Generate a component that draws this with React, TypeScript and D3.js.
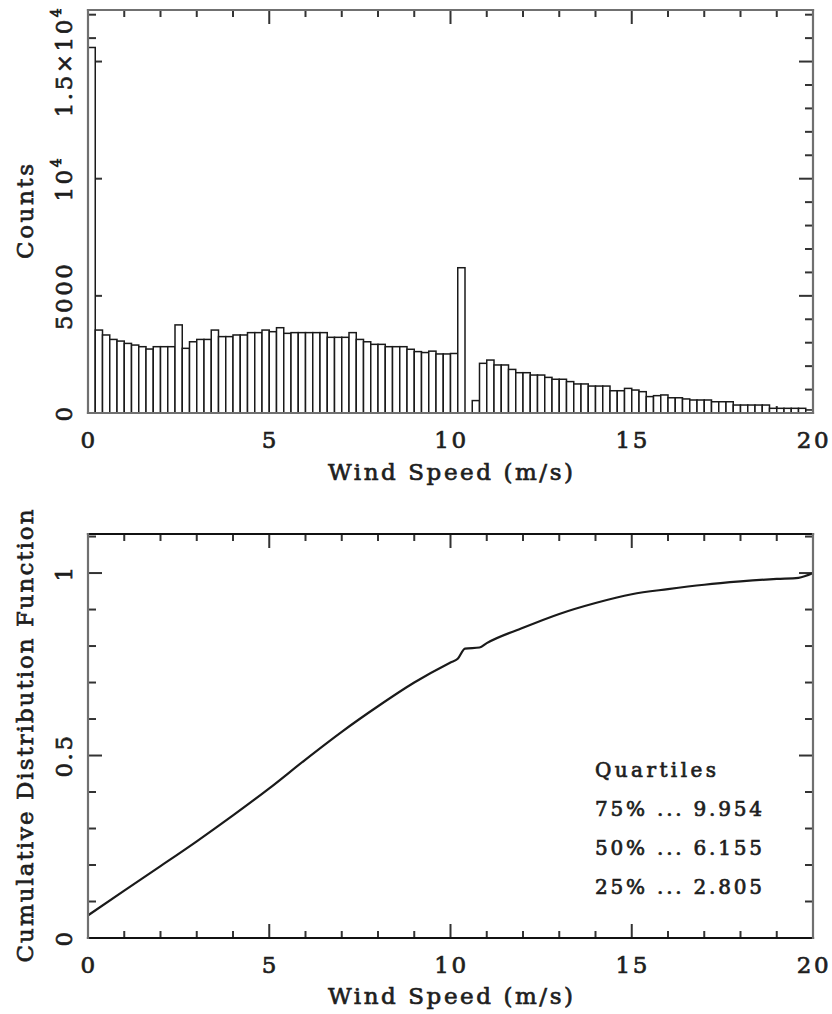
import React, { useEffect, useRef } from 'react';
import * as d3 from 'd3';

// histogram counts, 0.2 m/s bins from 0 to 20
const binWidth = 0.2;
const counts = [
  15600, 3540, 3330, 3140, 3070, 2970, 2900, 2830, 2730, 2830,
  2830, 2830, 3760, 2760, 3040, 3140, 3140, 3540, 3260, 3260,
  3330, 3330, 3430, 3430, 3540, 3470, 3640, 3400, 3430, 3430,
  3430, 3430, 3430, 3230, 3230, 3230, 3430, 3140, 3040, 2930,
  2930, 2830, 2830, 2830, 2720, 2620, 2580, 2640, 2520, 2520,
  2540, 6200, 0, 530, 2120, 2260, 2050, 2050, 1860, 1720,
  1720, 1620, 1620, 1520, 1440, 1440, 1340, 1240, 1240, 1150,
  1150, 1150, 950, 950, 1050, 980, 910, 700, 740, 770,
  650, 650, 600, 555, 555, 555, 480, 480, 480, 340,
  340, 340, 340, 340, 200, 200, 200, 200, 200, 130,
];

// cumulative distribution
const cdfSpeed = [0, 1, 2, 3, 4, 5, 6, 7, 8, 9, 10, 10.2, 10.4, 10.8, 11, 12, 13, 14, 15, 16, 17, 18, 19, 19.6, 20];
const cdfValue = [0.062, 0.13, 0.197, 0.265, 0.336, 0.41, 0.489, 0.565, 0.635, 0.7, 0.755, 0.765, 0.793, 0.796, 0.808, 0.85, 0.888, 0.918, 0.942, 0.956, 0.968, 0.977, 0.984, 0.987, 1.0];

const speedTicks = [0, 5, 10, 15, 20];
const countTicks = [0, 5000, 10000, 15000];
const countTickLabels = [['0', ''], ['5000', ''], ['10', '4'], ['1.5×10', '4']];
const cdfTicks = [0, 0.5, 1];
const cdfTickLabels = ['0', '0.5', '1'];

const quartileNames = ['75%', '50%', '25%'];
const quartileValues = ['9.954', '6.155', '2.805'];

const FONT = '"DejaVu Serif", "Liberation Serif", serif';

const drawTicks = (g, x, y, yStep, yMajor) => {
  const [y0, y1] = y.range();
  const [x0, x1] = x.range();
  d3.range(0, 20.001, 1).forEach(v => {
    const len = v % 5 === 0 ? 14 : 7;
    g.append('line').attr('x1', x(v)).attr('x2', x(v)).attr('y1', y0).attr('y2', y0 - len);
    g.append('line').attr('x1', x(v)).attr('x2', x(v)).attr('y1', y1).attr('y2', y1 + len);
  });
  const top = y.domain()[1];
  d3.range(0, top + 1e-9, yStep).forEach((v, i) => {
    const len = i % yMajor === 0 ? 14 : 8;
    g.append('line').attr('x1', x0).attr('x2', x0 + len).attr('y1', y(v)).attr('y2', y(v));
    g.append('line').attr('x1', x1).attr('x2', x1 - len).attr('y1', y(v)).attr('y2', y(v));
  });
  g.attr('stroke', '#333').attr('stroke-width', 2);
};

const drawFrame = (svg, x, y, hColor, vColor) => {
  const [y0, y1] = y.range();
  const [x0, x1] = x.range();
  const g = svg.append('g').attr('stroke-width', 2.2).attr('stroke-linecap', 'square');
  g.append('line').attr('x1', x0).attr('x2', x1).attr('y1', y0).attr('y2', y0).attr('stroke', hColor);
  g.append('line').attr('x1', x0).attr('x2', x1).attr('y1', y1).attr('y2', y1).attr('stroke', hColor);
  g.append('line').attr('x1', x0).attr('x2', x0).attr('y1', y0).attr('y2', y1).attr('stroke', vColor);
  g.append('line').attr('x1', x1).attr('x2', x1).attr('y1', y0).attr('y2', y1).attr('stroke', vColor);
};

const App = () => {
  const ref = useRef(null);

  useEffect(() => {
    const svg = d3.select(ref.current);
    svg.selectAll('*').remove();

    const x = d3.scaleLinear().domain([0, 20]).range([88, 813]);
    const yHist = d3.scaleLinear().domain([0, 17200]).range([413, 10]);
    const yCdf = d3.scaleLinear().domain([0, 1.107]).range([938, 534]);

    // thickened serif text to mimic the heavy, blurred original lettering
    const text = (t) => t.attr('font-family', FONT).attr('fill', '#1e1e1e')
      .attr('stroke', '#1e1e1e').attr('stroke-width', 0.7);
    const tickLabel = (t) => t.call(text).attr('font-size', 23).attr('letter-spacing', 2.5);

    // ---- top panel: histogram ----
    drawTicks(svg.append('g'), x, yHist, 1000, 5);

    svg.append('g')
      .selectAll('rect')
      .data(counts)
      .join('rect')
      .attr('x', (d, i) => x(i * binWidth))
      .attr('y', d => yHist(d))
      .attr('width', x(binWidth) - x(0))
      .attr('height', d => yHist(0) - yHist(d))
      .attr('fill', 'white')
      .attr('stroke', '#1a1a1a')
      .attr('stroke-width', 1.5);

    drawFrame(svg, x, yHist, '#707070', '#707070');

    speedTicks.forEach(v => {
      svg.append('text').call(tickLabel)
        .attr('x', x(v) + 1).attr('y', 448).attr('text-anchor', 'middle')
        .text(v);
    });
    countTicks.forEach((v, i) => {
      const t = svg.append('text').call(tickLabel)
        .attr('transform', `translate(72,${yHist(v)}) rotate(-90)`)
        .attr('text-anchor', 'middle');
      t.append('tspan').text(countTickLabels[i][0]);
      if (countTickLabels[i][1]) {
        t.append('tspan').attr('dy', -11).attr('font-size', 14).text(countTickLabels[i][1]);
      }
    });
    svg.append('text').call(text)
      .attr('x', x(10)).attr('y', 480).attr('text-anchor', 'middle').attr('font-size', 23)
      .attr('textLength', 245).attr('lengthAdjust', 'spacing')
      .text('Wind Speed (m/s)');
    svg.append('text').call(text)
      .attr('transform', `translate(33,${(413 + 10) / 2}) rotate(-90)`)
      .attr('text-anchor', 'middle').attr('font-size', 23)
      .attr('textLength', 95).attr('lengthAdjust', 'spacing')
      .text('Counts');

    // ---- bottom panel: cumulative distribution ----
    drawTicks(svg.append('g'), x, yCdf, 0.1, 5);

    const line = d3.line()
      .x((d, i) => x(cdfSpeed[i]))
      .y(d => yCdf(d))
      .curve(d3.curveMonotoneX);
    svg.append('path')
      .datum(cdfValue)
      .attr('d', line)
      .attr('fill', 'none')
      .attr('stroke', '#1a1a1a')
      .attr('stroke-width', 2.2);

    drawFrame(svg, x, yCdf, '#111', '#707070');

    speedTicks.forEach(v => {
      svg.append('text').call(tickLabel)
        .attr('x', x(v) + 1).attr('y', 973).attr('text-anchor', 'middle')
        .text(v);
    });
    cdfTicks.forEach((v, i) => {
      svg.append('text').call(tickLabel)
        .attr('transform', `translate(72,${yCdf(v)}) rotate(-90)`)
        .attr('text-anchor', 'middle')
        .text(cdfTickLabels[i]);
    });
    svg.append('text').call(text)
      .attr('x', x(10)).attr('y', 1004).attr('text-anchor', 'middle').attr('font-size', 23)
      .attr('textLength', 245).attr('lengthAdjust', 'spacing')
      .text('Wind Speed (m/s)');
    svg.append('text').call(text)
      .attr('transform', `translate(33,${(938 + 534) / 2}) rotate(-90)`)
      .attr('text-anchor', 'middle').attr('font-size', 23)
      .attr('textLength', 453).attr('lengthAdjust', 'spacing')
      .text('Cumulative Distribution Function');

    // quartiles box
    svg.append('text').call(text)
      .attr('x', 595).attr('y', 777).attr('font-size', 20)
      .attr('textLength', 121).attr('lengthAdjust', 'spacing')
      .text('Quartiles');
    quartileNames.forEach((q, i) => {
      svg.append('text').call(text)
        .attr('x', 595).attr('y', 816 + i * 39).attr('font-size', 20)
        .attr('textLength', 167).attr('lengthAdjust', 'spacing')
        .attr('xml:space', 'preserve')
        .text(`${q} ... ${quartileValues[i]}`);
    });
  }, []);

  return (
    <div style={{ position: 'absolute', left: 0, top: 0 }}>
      <svg ref={ref} width={832} height={1014} style={{ display: 'block', background: 'white' }} />
    </div>
  );
};

export default App;
